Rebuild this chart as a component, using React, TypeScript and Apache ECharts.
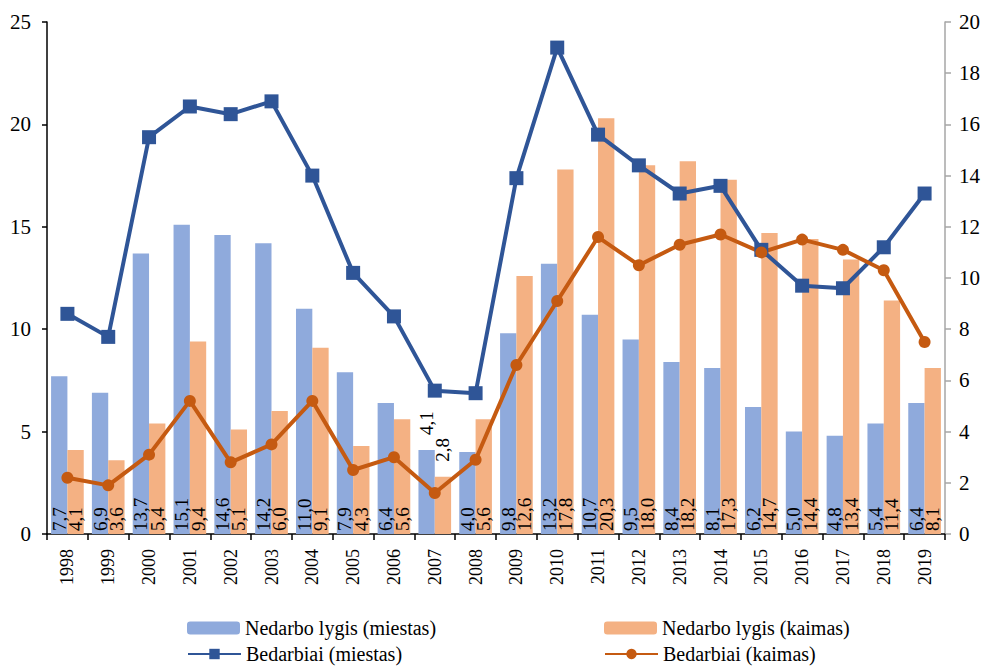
import React, { useEffect, useRef } from "react";
import * as echarts from "echarts";

const years = ["1998","1999","2000","2001","2002","2003","2004","2005","2006","2007","2008","2009","2010","2011","2012","2013","2014","2015","2016","2017","2018","2019"];
const nedarboMiestas = [7.7,6.9,13.7,15.1,14.6,14.2,11.0,7.9,6.4,4.1,4.0,9.8,13.2,10.7,9.5,8.4,8.1,6.2,5.0,4.8,5.4,6.4];
const nedarboKaimas = [4.1,3.6,5.4,9.4,5.1,6.0,9.1,4.3,5.6,2.8,5.6,12.6,17.8,20.3,18.0,18.2,17.3,14.7,14.4,13.4,11.4,8.1];
const bedarbiaiMiestas = [8.6,7.7,15.5,16.7,16.4,16.9,14.0,10.2,8.5,5.6,5.5,13.9,19.0,15.6,14.4,13.3,13.6,11.1,9.7,9.6,11.2,13.3];
const bedarbiaiKaimas = [2.2,1.9,3.1,5.2,2.8,3.5,5.2,2.5,3.0,1.6,2.9,6.6,9.1,11.6,10.5,11.3,11.7,11.0,11.5,11.1,10.3,7.5];
const outsideLabelYears = ["2007"];

const FONT = "Liberation Serif";

export default function App() {
  const ref = useRef<HTMLDivElement>(null);
  useEffect(() => {
    if (!ref.current) return;
    const chart = echarts.init(ref.current, undefined, { renderer: "svg" });
    const fmt = (p: any) => Number(p.value).toFixed(1).replace(".", ",");
    const barData = (vals: number[]) =>
      vals.map((v, i) =>
        outsideLabelYears.includes(years[i])
          ? { value: v, label: { position: "top", distance: 15 } }
          : v
      );
    const barLabel = {
      show: true,
      position: "insideBottom",
      distance: 3,
      rotate: 90,
      align: "left",
      verticalAlign: "middle",
      color: "#000",
      fontFamily: FONT,
      fontSize: 19,
      formatter: fmt,
    };
    const legendBase = {
      itemWidth: 53,
      itemHeight: 13,
      itemGap: 4,
      padding: 0,
      textStyle: { fontFamily: FONT, fontSize: 20, lineHeight: 22, color: "#000", padding: [0, 0, 0, 0] },
    };
    chart.setOption({
      animation: false,
      textStyle: { fontFamily: FONT },
      grid: { left: 47, right: 41, top: 22, bottom: 134 },
      legend: [
        { ...legendBase, data: ["Nedarbo lygis (miestas)"], left: 187, top: 617 },
        { ...legendBase, data: ["Nedarbo lygis (kaimas)"], left: 604, top: 617 },
        { ...legendBase, data: ["Bedarbiai (miestas)"], left: 187, top: 643 },
        { ...legendBase, data: ["Bedarbiai (kaimas)"], left: 604, top: 643 },
      ],
      xAxis: {
        type: "category",
        data: years,
        axisLine: { lineStyle: { color: "#000", width: 1.5 } },
        axisTick: { show: true, length: 6, lineStyle: { color: "#000", width: 1.5 } },
        axisLabel: { rotate: 90, color: "#000", fontFamily: FONT, fontSize: 18, margin: 15 },
      },
      yAxis: [
        {
          type: "value",
          min: 0,
          max: 25,
          interval: 5,
          splitLine: { show: false },
          axisLine: { show: true, lineStyle: { color: "#000", width: 1.5 } },
          axisTick: { show: true, length: 5, lineStyle: { color: "#000", width: 1.5 } },
          axisLabel: { color: "#000", fontFamily: FONT, fontSize: 21, margin: 16 },
        },
        {
          type: "value",
          min: 0,
          max: 20,
          interval: 2,
          position: "right",
          splitLine: { show: false },
          axisLine: { show: true, lineStyle: { color: "#A6A6A6", width: 1.5 } },
          axisTick: { show: true, length: 6, lineStyle: { color: "#A6A6A6", width: 1.5 } },
          axisLabel: { color: "#000", fontFamily: FONT, fontSize: 21, margin: 14 },
        },
      ],
      series: [
        {
          name: "Nedarbo lygis (miestas)",
          type: "bar",
          data: barData(nedarboMiestas),
          itemStyle: { color: "#8FAADC" },
          barGap: "0%",
          barCategoryGap: "20%",
          label: barLabel,
          z: 2,
        },
        {
          name: "Nedarbo lygis (kaimas)",
          type: "bar",
          data: barData(nedarboKaimas),
          itemStyle: { color: "#F4B183" },
          barGap: "0%",
          barCategoryGap: "20%",
          label: barLabel,
          z: 2,
        },
        {
          name: "Bedarbiai (miestas)",
          type: "line",
          yAxisIndex: 1,
          data: bedarbiaiMiestas,
          symbol: "rect",
          symbolSize: 14,
          lineStyle: { color: "#2F5597", width: 4 },
          itemStyle: { color: "#2F5597" },
          z: 3,
        },
        {
          name: "Bedarbiai (kaimas)",
          type: "line",
          yAxisIndex: 1,
          data: bedarbiaiKaimas,
          symbol: "circle",
          symbolSize: 12,
          lineStyle: { color: "#C55A11", width: 4 },
          itemStyle: { color: "#C55A11" },
          z: 3,
        },
      ],
    });
    return () => chart.dispose();
  }, []);
  return (
    <div
      ref={ref}
      style={{ position: "absolute", left: 0, top: 0, width: 986, height: 668, background: "#fff" }}
    />
  );
}
